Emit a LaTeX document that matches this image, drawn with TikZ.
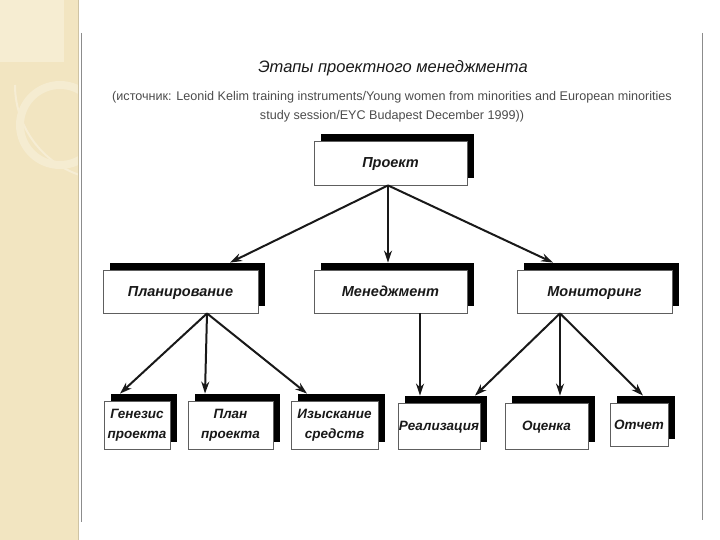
\documentclass[tikz,border=0pt]{standalone}
\usepackage{fontspec}
\setmainfont{Liberation Sans}
\usetikzlibrary{arrows.meta,shadows}
\definecolor{band}{RGB}{242,229,193}
\definecolor{bandlight}{RGB}{246,237,210}
\definecolor{ink}{RGB}{25,25,25}
\tikzset{
  box/.style={draw=ink!70, line width=0.8pt, fill=white, inner sep=0pt, align=center,
    text=ink, font=\fontsize{14.5}{20}\selectfont\bfseries\itshape,
    general shadow={fill=black, shadow xshift=7pt, shadow yshift=7pt}},
  lowbox/.style={box, font=\fontsize{13.5}{20}\selectfont\bfseries\itshape},
  oneline/.style={text height=11pt, text depth=2pt},
  link/.style={draw=ink, line width=2pt, -{Stealth[length=12pt,width=8pt]}}
}
\begin{document}
\begin{tikzpicture}[x=1pt,y=-1pt]
\useasboundingbox (0,0) rectangle (720,540);
\fill[band] (0,0) rectangle (78,540);
\begin{scope}
\clip (0,0) rectangle (78,540);
\fill[bandlight] (0,0) rectangle (64,62);
\draw[white!30!band, line width=2pt] (110,85) ++(180:95) arc[start angle=180, end angle=95, radius=95];
\draw[white!25!band, line width=8pt] (60,125) circle (40);
\end{scope}
\draw[band!85!black, line width=1pt] (78,0) -- (78,540);
\draw[black!45, line width=0.8pt] (81,33) -- (81,522);
\draw[black!45, line width=0.8pt] (702,33) -- (702,520);

\node[text=ink, font=\fontsize{16.5}{20}\selectfont\itshape] (title) at (393,68) {Этапы проектного менеджмента};
\node[text=black!70, font=\fontsize{12.6}{19}\selectfont, align=center] (src) at (392,107)
  {(источник: Leonid Kelim training instruments/Young women from minorities and European minorities\\
   study session/EYC Budapest December 1999))};

\node[box, oneline, minimum width=153pt, minimum height=44pt] (proj) at (390.5,163) {Проект};

\node[box, oneline, minimum width=155pt, minimum height=43pt] (plan) at (180.5,291.5) {Планирование};
\node[box, oneline, minimum width=153pt, minimum height=43pt] (mgmt) at (390.5,291.5) {Менеджмент};
\node[box, oneline, minimum width=155pt, minimum height=43pt] (mon) at (594.5,291.5) {Мониторинг};

\node[lowbox, minimum width=66pt, minimum height=48pt] (gen) at (137,425) {Генезис\\проекта};
\node[lowbox, minimum width=85pt, minimum height=48pt] (planpr) at (230.5,425) {План\\проекта};
\node[lowbox, minimum width=87pt, minimum height=48pt] (izy) at (334.5,425) {Изыскание\\средств};
\node[lowbox, oneline, minimum width=82pt, minimum height=46pt] (real) at (439,426) {Реализация};
\node[lowbox, oneline, minimum width=83pt, minimum height=46pt] (ocen) at (546.5,426) {Оценка};
\node[lowbox, oneline, minimum width=58pt, minimum height=43pt] (otch) at (639,424.5) {Отчет};

\draw[link] ([xshift=-2.5pt]proj.south) -- ([xshift=49.5pt,yshift=7pt]plan.north);
\draw[link] ([xshift=-2.5pt]proj.south) -- ([xshift=-2.5pt,yshift=7pt]mgmt.north);
\draw[link] ([xshift=-2.5pt]proj.south) -- ([xshift=-41.5pt,yshift=7pt]mon.north);

\draw[link] ([xshift=26.5pt]plan.south) -- ([xshift=-17pt,yshift=7pt]gen.north);
\draw[link] ([xshift=26.5pt]plan.south) -- ([xshift=-25.5pt,yshift=7pt]planpr.north);
\draw[link] ([xshift=26.5pt]plan.south) -- ([xshift=-27.5pt,yshift=7pt]izy.north);

\draw[link] ([xshift=29.5pt]mgmt.south) -- ([xshift=-19pt,yshift=7pt]real.north);

\draw[link] ([xshift=-34.5pt]mon.south) -- ([xshift=36pt,yshift=7pt]real.north);
\draw[link] ([xshift=-34.5pt]mon.south) -- ([xshift=13.5pt,yshift=7pt]ocen.north);
\draw[link] ([xshift=-34.5pt]mon.south) -- ([xshift=4pt,yshift=7pt]otch.north);
\end{tikzpicture}
\end{document}
